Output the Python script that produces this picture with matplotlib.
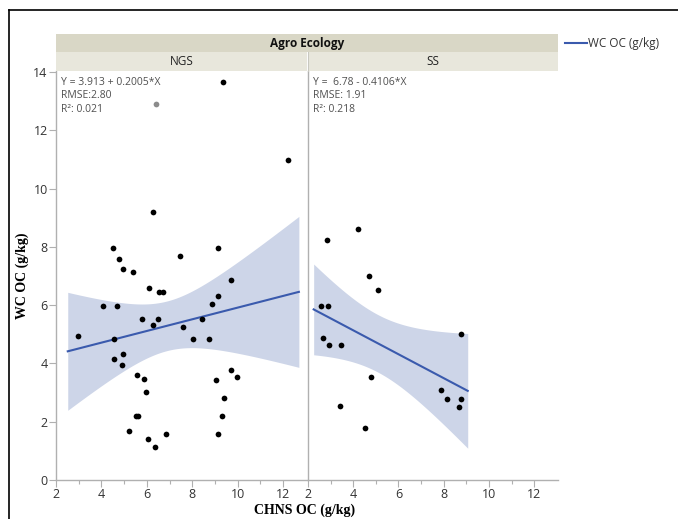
import numpy as np
import matplotlib.pyplot as plt
from matplotlib.lines import Line2D

plt.rcParams['font.family'] = ['Open Sans', 'DejaVu Sans']

# NGS panel (black points used in fit)
ngs_x = [2.98, 4.06, 4.51, 4.68, 4.57, 4.78, 4.95, 5.39, 5.77, 6.08, 6.28, 6.27,
         6.50, 6.52, 6.69, 7.47, 7.60, 8.05, 8.43, 8.72, 8.86, 9.12, 9.15, 9.69,
         4.54, 4.94, 4.92, 5.57, 5.86, 5.95, 5.54, 5.63, 5.23, 6.07, 6.37, 6.84,
         9.06, 9.69, 9.97, 9.40, 9.31, 9.12, 9.35, 12.23]
ngs_y = [4.94, 5.99, 7.96, 5.99, 4.85, 7.59, 7.26, 7.13, 5.51, 6.59, 9.19, 5.31,
         5.51, 6.45, 6.45, 7.69, 5.25, 4.85, 5.51, 4.85, 6.04, 6.32, 7.96, 6.85,
         4.17, 4.34, 3.94, 3.60, 3.48, 3.03, 2.19, 2.19, 1.69, 1.41, 1.14, 1.58,
         3.42, 3.78, 3.54, 2.81, 2.19, 1.58, 13.66, 10.99]
# excluded point (gray)
ngs_excl_x = [6.40]
ngs_excl_y = [12.9]

# SS panel
ss_x = [2.82, 4.20, 4.70, 5.10, 2.56, 2.88, 2.67, 2.91, 3.44, 8.75,
        4.79, 3.41, 4.50, 7.90, 8.14, 8.75, 8.67]
ss_y = [8.25, 8.61, 7.01, 6.51, 5.99, 5.99, 4.86, 4.63, 4.63, 5.02,
        3.54, 2.55, 1.77, 3.10, 2.77, 2.77, 2.51]

# fit summaries as shown
ngs_fit = dict(a=3.913, b=0.2005, rmse=2.80, t=2.018,
               text="Y = 3.913 + 0.2005*X\nRMSE:2.80\nR²: 0.021")
ss_fit = dict(a=6.78, b=-0.4106, rmse=1.91, t=2.131,
              text="Y =  6.78 - 0.4106*X\nRMSE: 1.91\nR²: 0.218")

line_col = '#3a5aad'
band_col = '#cdd5e8'
grid_col = '#b0b0b0'
text_col = '#505050'

W, H = 678, 519
fig = plt.figure(figsize=(W / 100, H / 100), dpi=100)


def fx(px):
    return px / W


def fy(py):
    return 1 - py / H


def bare(a):
    a.set_xticks([])
    a.set_yticks([])
    for s in a.spines.values():
        s.set_visible(False)


# partial frame of the screenshot (top and left)
fig.add_artist(Line2D([fx(9), 1], [fy(10), fy(10)], color='black', lw=1.2))
fig.add_artist(Line2D([fx(9), fx(9)], [fy(10), 0], color='black', lw=1.2))

bottom, top = fy(480), fy(70.7)
ax1 = fig.add_axes([fx(56), bottom, fx(251), top - bottom])
ax2 = fig.add_axes([fx(308), bottom, fx(250), top - bottom])

# headers
hdr1 = fig.add_axes([fx(56), fy(52), fx(502), fy(34) - fy(52)])
hdr1.set_facecolor('#d9d7c6')
hdr1.text(0.5, 0.5, 'Agro Ecology', ha='center', va='center', fontsize=8.5,
          fontweight='bold', color='#111111')
bare(hdr1)
for name, left, width in [('NGS', 56, 251), ('SS', 308, 250)]:
    h = fig.add_axes([fx(left), fy(70.7), fx(width), fy(52) - fy(70.7)])
    h.set_facecolor('#e8e7dc')
    h.text(0.5, 0.5, name, ha='center', va='center', fontsize=8.5, color='#222222')
    bare(h)
fig.add_artist(Line2D([fx(307.5), fx(307.5)], [fy(52), fy(70.7)], color='#c8c8c0', lw=0.8))


def draw_panel(ax, x, y, fit):
    x = np.asarray(x)
    n = len(x)
    xbar = x.mean()
    sxx = ((x - xbar) ** 2).sum()
    pad = 0.05 * (x.max() - x.min())
    xs = np.linspace(x.min() - pad, x.max() + pad, 200)
    ys = fit['a'] + fit['b'] * xs
    hw = fit['t'] * fit['rmse'] * np.sqrt(1 / n + (xs - xbar) ** 2 / sxx)
    ax.fill_between(xs, ys - hw, ys + hw, color=band_col, lw=0, zorder=1)
    ax.plot(xs, ys, color=line_col, lw=1.5, zorder=2)
    ax.scatter(x, y, s=17, color='black', zorder=3, lw=0)
    ax.text(0.02, 0.985, fit['text'], transform=ax.transAxes, ha='left', va='top',
            fontsize=7.5, color=text_col, linespacing=1.3)
    ax.set_xlim(2, 13.05)
    ax.set_ylim(0, 14.05)
    ax.set_xticks(range(2, 13, 2))
    ax.set_xticks(range(3, 13, 2), minor=True)
    ax.tick_params(axis='x', colors=grid_col, labelcolor='#333333', labelsize=9,
                   length=5, width=0.8, pad=1)
    ax.tick_params(axis='x', which='minor', length=3, color=grid_col, width=0.8)
    for side in ('top', 'right'):
        ax.spines[side].set_visible(False)
    for side in ('left', 'bottom'):
        ax.spines[side].set_color(grid_col)
        ax.spines[side].set_linewidth(1.0)


draw_panel(ax1, ngs_x, ngs_y, ngs_fit)
ax1.scatter(ngs_excl_x, ngs_excl_y, s=17, color='#8c8c8c', zorder=3, lw=0)
ax1.set_yticks(range(0, 15, 2))
ax1.tick_params(axis='y', colors=grid_col, labelcolor='#333333', labelsize=9,
                length=5, width=0.8, pad=1)

draw_panel(ax2, ss_x, ss_y, ss_fit)
ax2.set_yticks([])

ax1.set_ylabel('WC OC (g/kg)', fontsize=10, fontweight='bold',
               family='Liberation Serif', labelpad=3)
fig.text(fx(305), fy(510), 'CHNS OC (g/kg)', ha='center', va='center',
         fontsize=10, fontweight='bold', family='Liberation Serif')

# legend
fig.add_artist(Line2D([fx(565), fx(587)], [fy(43), fy(43)], color=line_col, lw=1.5))
fig.text(fx(588), fy(43), 'WC OC (g/kg)', ha='left', va='center', fontsize=8.5,
         color='#333333')

fig.savefig('out.png', dpi=100)
